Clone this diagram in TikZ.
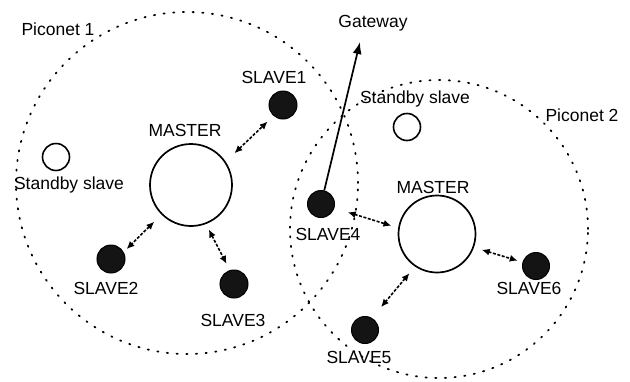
\documentclass[tikz,border=0pt]{standalone}
\usepackage{fontspec}
\setmainfont{Liberation Sans}
\usetikzlibrary{arrows.meta}
\tikzset{
  every node/.style={font=\fontsize{17.5}{20}\selectfont},
  lbl/.style={inner sep=0pt, text height=12.5pt, text depth=0pt, anchor=center},
  pico/.style={circle, draw, line width=1.8pt, dash pattern=on 1.2pt off 8.5pt, line cap=round, inner sep=0pt},
  master/.style={circle, draw, line width=1.7pt, inner sep=0pt},
  slavenode/.style={circle, draw, fill=black!92, line width=1pt, minimum size=28pt, inner sep=0pt},
  standby/.style={circle, draw, line width=1.6pt, minimum size=27pt, inner sep=0pt},
  link/.style={line width=1.6pt, dash pattern=on 3pt off 1.6pt, {Latex[length=8pt,width=7pt]}-{Latex[length=8pt,width=7pt]}},
  gwlink/.style={line width=1.7pt, -{Latex[length=12pt,width=9pt]}}
}
\begin{document}
\begin{tikzpicture}[x=1pt,y=-1pt]
\useasboundingbox (0,0) rectangle (630,381);
% piconets
\node[pico, minimum size=342pt] (p1) at (187,183) {};
\node[pico, minimum size=298pt] (p2) at (439,229) {};
% masters
\node[master, minimum size=82pt] (m1) at (191,185) {};
\node[master, minimum size=77pt] (m2) at (437,234) {};
% slaves
\node[slavenode] (s1) at (283,105) {};
\node[slavenode] (s2) at (111,259) {};
\node[slavenode] (s3) at (234,284) {};
\node[slavenode, minimum size=27pt] (s4) at (321,204) {};
\node[slavenode, minimum size=27pt] (s5) at (365,330) {};
\node[slavenode, minimum size=27pt] (s6) at (536,266) {};
% standby
\node[standby] (sb1) at (56,157) {};
\node[standby] (sb2) at (407,127) {};
% labels
\node[lbl] (lp1) at (58,29) {Piconet 1};
\node[lbl] (lp2) at (582,115) {Piconet 2};
\node[lbl] (gw) at (373,21) {Gateway};
\node[lbl] (lsb2) at (415,97) {Standby slave};
\node[lbl] (lsb1) at (69,183) {Standby slave};
\node[lbl] (lm1) at (185,130) {MASTER};
\node[lbl] (lm2) at (433,187) {MASTER};
\node[lbl] (ls1) at (274,77) {SLAVE1};
\node[lbl] (ls2) at (106,288) {SLAVE2};
\node[lbl] (ls3) at (233,320) {SLAVE3};
\node[lbl] (ls4) at (328,234) {SLAVE4};
\node[lbl] (ls5) at (359,357) {SLAVE5};
\node[lbl] (ls6) at (529,288) {SLAVE6};
% links
\draw[link, shorten <=12pt, shorten >=8pt] (m1.34) -- (s1.229);
\draw[link, shorten <=10pt, shorten >=4pt] (m1.225) -- (s2.29);
\draw[link, shorten <=6pt, shorten >=7pt] (m1.291) -- (s3.107);
\draw[link, shorten <=14pt, shorten >=7pt] (s4.343) -- (m2.171);
\draw[link, shorten <=8pt, shorten >=5pt] (m2.340) -- (s6.164);
\draw[link, shorten <=8.5pt, shorten >=14pt] (m2.236) -- (s5.60);
% gateway
\coordinate (gwtip) at (360,42);
\draw[gwlink] (s4) -- (gwtip);
\end{tikzpicture}
\end{document}
